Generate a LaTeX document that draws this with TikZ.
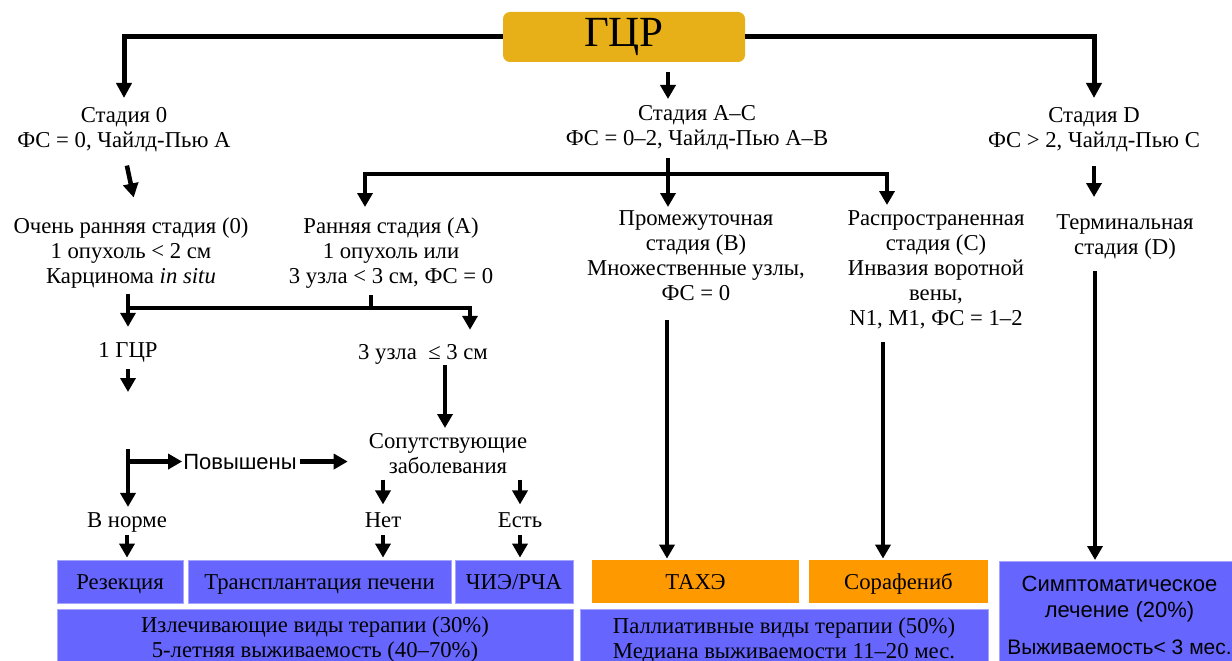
\documentclass[tikz,border=0pt]{standalone}
\usepackage{fontspec}
\setmainfont{Liberation Serif}
\newfontfamily\sansf{Liberation Sans}
\usetikzlibrary{arrows.meta}
\definecolor{gold}{RGB}{232,176,24}
\definecolor{bluebox}{RGB}{102,102,255}
\definecolor{orangebox}{RGB}{255,153,0}
\definecolor{boxedge}{RGB}{165,165,255}
\begin{document}
\begin{tikzpicture}[x=1pt,y=-1pt,
  txt/.style={align=center,inner sep=0pt,font=\fontsize{22.7}{25}\selectfont},
  conn/.style={line width=4.5pt,line join=miter},
  arr/.style={conn,-{Triangle[width=15pt,length=14pt]}},
  toparr/.style={line width=5pt,line join=miter,-{Triangle[width=15pt,length=15pt]}},
  box/.style={rectangle,inner sep=0pt,line width=0.8pt,align=center,font=\fontsize{22.7}{25}\selectfont},
  oneline/.style={text height=16pt,text depth=0pt},
  bbox/.style={box,fill=bluebox,draw=boxedge},
  obox/.style={box,fill=orangebox}]
\fill[white] (0,0) rectangle (1232,661);
\useasboundingbox (0,0) rectangle (1232,661);
\clip (0,0) rectangle (1232,661);

% root
\node[fill=gold,rounded corners=7pt,minimum width=242pt,minimum height=50pt,inner sep=0pt,font=\fontsize{43}{46}\selectfont] (gcr) at (624,37) {ГЦР};

% stages
\node[txt,anchor=north] (s0) at (124,107) {Стадия 0\\ФС = 0, Чайлд-Пью А};
\node[txt,anchor=north] (sac) at (697,105) {Стадия А–С\\ФС = 0–2, Чайлд-Пью А–В};
\node[txt,anchor=north] (sd) at (1094,107) {Стадия D\\ФС > 2, Чайлд-Пью С};

\node[txt,anchor=north] (e0) at (131,218) {Очень ранняя стадия (0)\\1 опухоль < 2 см\\Карцинома \textit{in situ}};
\node[txt,anchor=north] (ea) at (391,218) {Ранняя стадия (А)\\1 опухоль или\\3 узла < 3 см, ФС = 0};
\node[txt,anchor=north] (eb) at (696,210) {Промежуточная\\стадия (В)\\Множественные узлы,\\ФС = 0};
\node[txt,anchor=north] (ec) at (936,210) {Распространенная\\стадия (С)\\Инвазия воротной\\вены,\\N1, M1, ФС = 1–2};
\node[txt,anchor=north] (ed) at (1125,214) {Терминальная\\стадия (D)};

\node[txt,anchor=base] (g1) at (128,357) {1 ГЦР};
\node[txt,anchor=base] (g3) at (423,359) {3 узла\ \ ≤ 3 см};
\node[txt,anchor=north] (com) at (448,433) {Сопутствующие\\заболевания};
\node[txt,anchor=base,font=\sansf\fontsize{22}{25}\selectfont] (pov) at (240,469) {Повышены};
\node[txt,anchor=base] (norm) at (127,527) {В норме};
\node[txt,anchor=base] (net) at (383,527) {Нет};
\node[txt,anchor=base] (est) at (520,527) {Есть};

% treatment boxes
\node[bbox,oneline,minimum width=126pt,minimum height=43pt] (rez) at (120,581.5) {Резекция};
\node[bbox,oneline,minimum width=263pt,minimum height=43pt] (tr) at (319.5,581.5) {Трансплантация печени};
\node[bbox,oneline,minimum width=118pt,minimum height=43pt] (chie) at (514,581.5) {ЧИЭ/РЧА};
\node[obox,oneline,minimum width=207pt,minimum height=43pt] (tache) at (695.5,581.5) {ТАХЭ};
\node[obox,oneline,minimum width=179pt,minimum height=43pt] (sor) at (898.5,581.5) {Сорафениб};
\node[bbox,anchor=north,minimum width=241pt,minimum height=109pt,font=\sansf\fontsize{22}{26}\selectfont] (sym) at (1119.5,561) {Симптоматическое\\лечение (20\%)\\[11pt]{\fontsize{21}{26}\selectfont Выживаемость< 3 мес.}};
\node[bbox,anchor=north,minimum width=516pt,minimum height=61pt] (cur) at (315,609) {Излечивающие виды терапии (30\%)\\5-летняя выживаемость (40–70\%)};
\node[bbox,anchor=north,minimum width=408pt,minimum height=61pt] (pal) at (784,609) {Паллиативные виды терапии (50\%)\\Медиана выживаемости 11–20 мес.};

% connectors: top
\draw[toparr,shorten >=9pt] (gcr.west) -| (s0.north);
\draw[toparr,shorten >=9pt] (gcr.east) -| (sd.north);
\draw[arr,shorten <=10pt,shorten >=6pt] ([xshift=44pt]gcr.south) -- ([xshift=44pt]gcr.south |- sac.north);

\draw[arr,shorten <=14pt,shorten >=21pt] (s0.south) -- ([xshift=7pt]e0.north);
\draw[arr,shorten <=14pt,shorten >=17pt] (sd.south) -- (sd.south |- ed.north);

% stage A-C split
\coordinate (bA) at (365,174);
\coordinate (bC) at (887,174);
\draw[arr,shorten <=8pt,shorten >=3pt] ([xshift=-29pt]sac.south) -- ([xshift=-29pt]sac.south |- eb.north);
\draw[arr,shorten >=11pt] (bC) -- (bA) -- (bA |- ea.north);
\draw[arr,shorten >=5pt] (bA) -- (bC) -- (bC |- ec.north);

% early stages split
\coordinate (bL) at (128,308);
\coordinate (bR) at (470,308);
\draw[arr,shorten <=5pt,shorten >=15pt] (e0.south -| bL) -- (g1.north -| bL);
\draw[conn,shorten <=6pt] ([xshift=-20pt]ea.south) -- ([xshift=-20pt]ea.south |- bL);
\draw[arr,shorten >=14pt] (bL) -- (bR) -- (bR |- g3.north);

\coordinate (g1end) at (128,392);
\draw[arr,shorten <=7pt] (g1.south) -- (g1end);
\draw[arr,shorten <=1pt,shorten >=5pt] ([xshift=22pt]g3.south) -- ([xshift=22pt]g3.south |- com.north);

\coordinate (lv) at (128,449);
\draw[arr,shorten >=5pt] (lv) -- (lv |- norm.north);
\draw[arr,shorten >=1pt] (lv |- pov.west) -- (pov.west);
\draw[arr,shorten <=3pt,shorten >=21pt] (pov.east) -- (pov.east -| com.west);

\draw[arr,shorten <=6pt,shorten >=7.5pt] (com.south -| net.north) -- (net.north);
\draw[arr,shorten <=6pt,shorten >=7.5pt] (com.south -| est.north) -- (est.north);

\draw[arr,shorten <=3pt,shorten >=2pt] (norm.south) -- (norm.south |- rez.north);
\draw[arr,shorten <=8pt,shorten >=2pt] (net.south) -- (net.south |- tr.north);
\draw[arr,shorten <=8pt,shorten >=2pt] (est.south) -- (est.south |- chie.north);

% long arrows
\draw[arr,shorten <=20pt,shorten >=1pt] ([xshift=-29pt]eb.south) -- ([xshift=-29pt]eb.south |- tache.north);
\draw[arr,shorten <=13pt,shorten >=1pt] ([xshift=-53pt]ec.south) -- ([xshift=-53pt]ec.south |- sor.north);
\draw[arr,shorten <=12pt,shorten >=1pt] ([xshift=-30pt]ed.south) -- ([xshift=-30pt]ed.south |- sym.north);
\end{tikzpicture}
\end{document}
